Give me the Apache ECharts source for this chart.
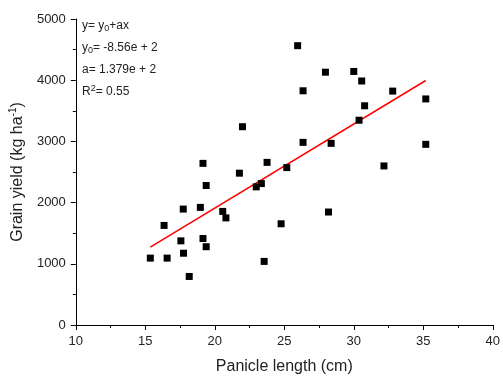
<!DOCTYPE html>
<html>
<head>
<meta charset="utf-8">
<script src="https://cdn.jsdelivr.net/npm/echarts@6/dist/echarts.min.js"></script>
<style>html,body{margin:0;padding:0;background:#fff}#c{width:503px;height:380px}</style>
</head>
<body>
<div id="c"></div>
<script>
var panicleLength = [15.36,16.35,16.57,17.56,17.73,17.75,18.16,18.96,19.15,19.15,19.38,19.38,20.57,20.8,21.77,21.99,22.98,23.35,23.55,23.76,24.77,25.18,25.96,26.35,26.35,27.96,28.18,28.37,30.0,30.57,30.38,30.78,32.17,32.8,35.18,35.18];
var grainYield = [1093,1627,1093,1375,1894,1173,793,1922,2641,1413,2279,1279,1856,1750,2481,3240,2257,2311,1039,2657,1654,2572,4564,3827,2984,4131,1846,2968,4143,3987,3346,3582,2599,3822,3694,2952];
var fitLineX = [15.36, 35.18];
var fitLineY = [1272, 3995];
var xTicks = [10,15,20,25,30,35,40];
var yTicks = [0,1000,2000,3000,4000,5000];

var pts = panicleLength.map(function(x,i){return [x, grainYield[i]];});
var fit = fitLineX.map(function(x,i){return [x, fitLineY[i]];});
var FONT = 'Liberation Sans, Arial, sans-serif';
var chart = echarts.init(document.getElementById('c'), null, {renderer:'canvas'});
chart.setOption({
  animation:false,
  backgroundColor:'#fff',
  textStyle:{fontFamily:FONT},
  grid:{left:72.7, right:8, top:19, bottom:48.5},
  xAxis:{
    type:'value', min:xTicks[0], max:xTicks[xTicks.length-1], interval:5,
    splitLine:{show:false},
    axisLine:{lineStyle:{color:'#000',width:1}},
    axisTick:{show:true, length:5, lineStyle:{color:'#000'}},
    minorTick:{show:true, splitNumber:2, length:3, lineStyle:{color:'#000'}},
    axisLabel:{color:'#222', fontSize:13, margin:10, fontFamily:FONT},
    name:'Panicle length (cm)', nameLocation:'middle', nameGap:34,
    nameTextStyle:{color:'#222', fontSize:16, fontFamily:FONT}
  },
  yAxis:{
    type:'value', min:yTicks[0], max:yTicks[yTicks.length-1], interval:1000,
    splitLine:{show:false},
    axisLine:{show:true, lineStyle:{color:'#000',width:1}},
    axisTick:{show:true, length:5, lineStyle:{color:'#000'}},
    minorTick:{show:true, splitNumber:2, length:3, lineStyle:{color:'#000'}},
    axisLabel:{color:'#222', fontSize:13, margin:10, fontFamily:FONT, formatter:function(v){return String(v);}},
    name:'{n|Grain yield (kg ha}{s|-1}{n|)}', nameLocation:'middle', nameGap:44, nameRotate:90,
    nameTextStyle:{color:'#222', fontSize:16, fontFamily:FONT,
      rich:{n:{fontSize:16, color:'#222', fontFamily:FONT, lineHeight:18, verticalAlign:'bottom'},
            s:{fontSize:10, color:'#222', fontFamily:FONT, lineHeight:18, verticalAlign:'top', padding:[0,0,7,0]}}}
  },
  graphic:[{
    type:'text', left:82, top:15,
    style:{
      text:'{t|y= y}{sub|0}{t|+ax}\n{t|y}{sub|0}{t|= -8.56e + 2}\n{t|a= 1.379e + 2}\n{t|R}{sup|2}{t|= 0.55}',
      fill:'#222', font:'12px '+FONT, lineHeight:22,
      rich:{
        t:{fontSize:12, fill:'#222', fontFamily:FONT, lineHeight:22},
        sub:{fontSize:9, fill:'#222', fontFamily:FONT, lineHeight:22, padding:[6,0,0,0]},
        sup:{fontSize:9, fill:'#222', fontFamily:FONT, lineHeight:22, padding:[0,0,7,0]}
      }
    }
  }],
  series:[
    {type:'scatter', data:pts, symbol:'rect', symbolSize:7, itemStyle:{color:'#000', opacity:1}, z:3},
    {type:'line', data:fit, symbol:'none', lineStyle:{color:'#ff0000', width:1.5}, z:2}
  ]
});
</script>
</body>
</html>
